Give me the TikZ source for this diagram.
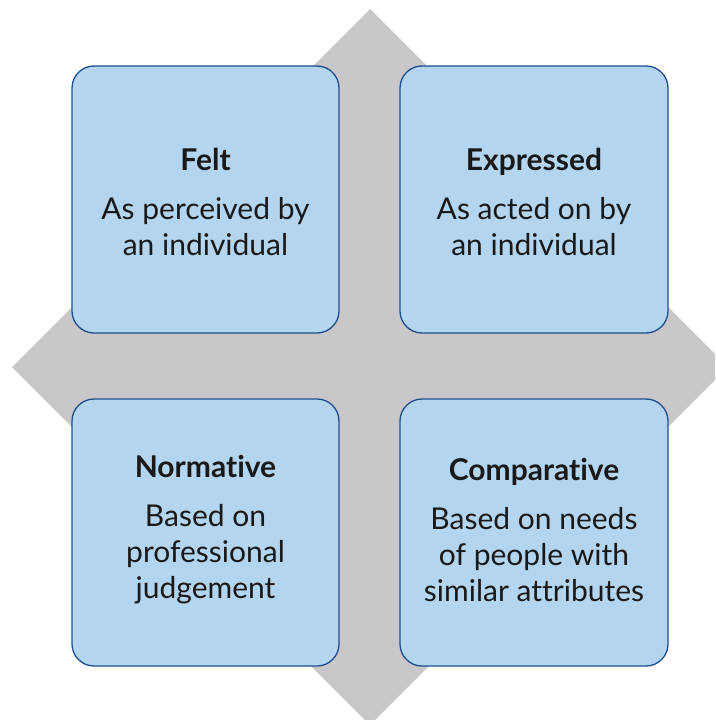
\documentclass[tikz,border=0pt]{standalone}
\usepackage{fontspec}
\setmainfont{Lato}[Ligatures={NoCommon}]
\definecolor{boxfill}{HTML}{B3D5F0}
\definecolor{boxline}{HTML}{1F4E8C}
\definecolor{diam}{HTML}{C9C7CA}
\begin{document}
\begin{tikzpicture}[x=1pt,y=-1pt,
  card/.style={draw=boxline,line width=1.3pt,fill=boxfill,rounded corners=22pt},
  txt/.style={align=center,font=\fontsize{30}{36}\selectfont,text=black!90}]
\useasboundingbox (0,0) rectangle (715,720);
\begin{scope}
\clip (0,0) rectangle (715,720);
\fill[diam] (370,9) -- (728,367) -- (370,725) -- (12,367) -- cycle;
\end{scope}
\draw[card] (72,66) rectangle (339,333);
\draw[card] (400,66) rectangle (668,333);
\draw[card] (72,399) rectangle (339,666);
\draw[card] (400,399) rectangle (668,666);
\node[txt] (felt) at (205.5,202) {\textbf{Felt}\\[13pt]As perceived by\\an individual};
\node[txt] (expr) at (534,202) {\textbf{Expressed}\\[13pt]As acted on by\\an individual};
\node[txt] (norm) at (205.5,530) {\textbf{Normative}\\[13pt]Based on\\professional\\judgement};
\node[txt] (comp) at (534,530) {\textbf{Comparative}\\[13pt]Based on needs\\of people with\\similar attributes};
\end{tikzpicture}
\end{document}
